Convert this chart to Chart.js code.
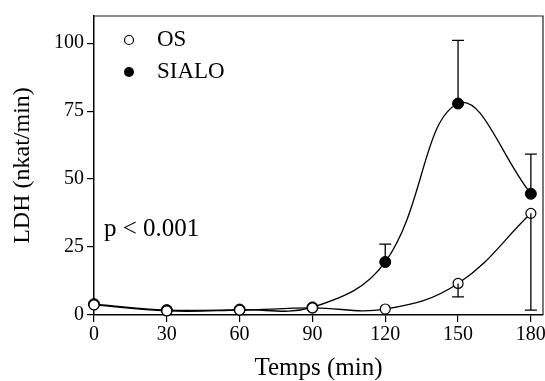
<!DOCTYPE html>
<html>
<head>
<meta charset="utf-8">
<script src="https://cdn.jsdelivr.net/npm/chart.js@4.4.1/dist/chart.umd.min.js"></script>
<style>
  html, body { margin: 0; padding: 0; background: #fff; }
  #wrap { width: 545px; height: 381px; }
</style>
</head>
<body>
<div id="wrap"><canvas id="c" width="545" height="381"></canvas></div>
<script>
// Sampling times (min)
const times = [0, 30, 60, 90, 120, 150, 180];
// LDH release (nkat/min)
const osValues    = [3.7, 1.5, 1.8, 2.6, 2.2, 11.6, 37.4];
const sialoValues = [4.0, 1.8, 2.0, 2.8, 19.5, 77.8, 44.6];
// Error bars: OS drawn downward, SIALO drawn upward
const osErrDown   = [0, 0, 0, 0, 0, 4.9, 35.6];
const sialoErrUp  = [0, 0, 0, 0, 6.6, 23.2, 14.6];
// Axis ticks
const xTicks = [0, 30, 60, 90, 120, 150, 180];
const yTicks = [0, 25, 50, 75, 100];

const SERIF = "'Liberation Serif', 'Times New Roman', serif";

const toPoints = vals => times.map((t, i) => ({ x: t, y: vals[i] }));

// Error bars with caps, drawn through the chart's scales
const errorBars = {
  id: 'errorBars',
  afterDatasetsDraw(chart) {
    const { ctx, scales: { x, y } } = chart;
    ctx.save();
    ctx.strokeStyle = '#000';
    ctx.lineWidth = 1.3;
    const cap = 6;
    const draw = (vals, errs, dir) => {
      times.forEach((t, i) => {
        if (!errs[i]) return;
        const px = x.getPixelForValue(t);
        const y0 = y.getPixelForValue(vals[i]);
        const y1 = y.getPixelForValue(vals[i] + dir * errs[i]);
        ctx.beginPath();
        ctx.moveTo(px, y0); ctx.lineTo(px, y1);
        ctx.moveTo(px - cap, y1); ctx.lineTo(px + cap, y1);
        ctx.stroke();
      });
    };
    draw(osValues, osErrDown, -1);
    draw(sialoValues, sialoErrUp, 1);
    ctx.restore();
  }
};

// Frame, in-plot legend and significance note
const frameAndNotes = {
  id: 'frameAndNotes',
  afterDraw(chart) {
    const { ctx, chartArea: a } = chart;
    ctx.save();
    ctx.strokeStyle = '#222';
    ctx.lineWidth = 1.2;
    ctx.beginPath();
    ctx.moveTo(a.left, a.top); ctx.lineTo(a.right, a.top); ctx.lineTo(a.right, a.bottom);
    ctx.stroke();

    ctx.fillStyle = '#000';
    ctx.font = '23px ' + SERIF;
    ctx.textBaseline = 'middle';
    ctx.textAlign = 'left';
    // OS marker
    ctx.beginPath();
    ctx.arc(129, 40, 4.5, 0, Math.PI * 2);
    ctx.fillStyle = '#fff'; ctx.fill();
    ctx.lineWidth = 1.2; ctx.strokeStyle = '#000'; ctx.stroke();
    ctx.fillStyle = '#000';
    ctx.fillText('OS', 157, 40);
    // SIALO marker
    ctx.beginPath();
    ctx.arc(129, 72, 5, 0, Math.PI * 2);
    ctx.fill();
    ctx.fillText('SIALO', 157, 72);
    // p value
    ctx.font = '25px ' + SERIF;
    ctx.fillText('p < 0.001', 104, 229);
    ctx.restore();
  }
};

new Chart(document.getElementById('c'), {
  type: 'line',
  data: {
    datasets: [
      {
        label: 'OS',
        data: toPoints(osValues),
        borderColor: '#000',
        borderWidth: 1.3,
        tension: 0.4,
        pointRadius: 5,
        pointBackgroundColor: '#fff',
        pointBorderColor: '#000',
        pointBorderWidth: 1.2,
        clip: false
      },
      {
        label: 'SIALO',
        data: toPoints(sialoValues),
        borderColor: '#000',
        borderWidth: 1.3,
        tension: 0.4,
        pointRadius: 5.5,
        pointBackgroundColor: '#000',
        pointBorderColor: '#000',
        pointBorderWidth: 1,
        clip: false
      }
    ]
  },
  options: {
    responsive: false,
    animation: false,
    layout: { autoPadding: false, padding: { top: 16, right: 2, left: 0, bottom: 0 } },
    plugins: { legend: { display: false }, tooltip: { enabled: false } },
    scales: {
      x: {
        type: 'linear',
        min: 0,
        max: 185,
        afterBuildTicks: s => { s.ticks = xTicks.map(v => ({ value: v })); },
        afterFit: s => { s.height = 66; s.paddingLeft = 0; s.paddingRight = 0; },
        grid: { display: true, drawOnChartArea: false, drawTicks: true, tickLength: 7, color: '#000', lineWidth: 1.2 },
        border: { display: true, color: '#000', width: 1.5 },
        ticks: { color: '#000', font: { family: SERIF, size: 20 }, padding: 1, maxRotation: 0 },
        title: { display: true, text: 'Temps (min)', color: '#000', font: { family: SERIF, size: 25, lineHeight: 1 }, padding: { top: 0, bottom: 0 } }
      },
      y: {
        type: 'linear',
        min: 0,
        max: 110,
        afterBuildTicks: s => { s.ticks = yTicks.map(v => ({ value: v })); },
        afterFit: s => { s.width = 94; s.paddingTop = 0; s.paddingBottom = 0; },
        grid: { display: true, drawOnChartArea: false, drawTicks: true, tickLength: 7, color: '#000', lineWidth: 1.2 },
        border: { display: true, color: '#000', width: 1.5 },
        ticks: { color: '#000', font: { family: SERIF, size: 20 }, padding: 3 },
        title: { display: true, text: 'LDH (nkat/min)', color: '#000', font: { family: SERIF, size: 24 }, padding: { top: 8, bottom: 0 } }
      }
    }
  },
  plugins: [errorBars, frameAndNotes]
});
</script>
</body>
</html>
